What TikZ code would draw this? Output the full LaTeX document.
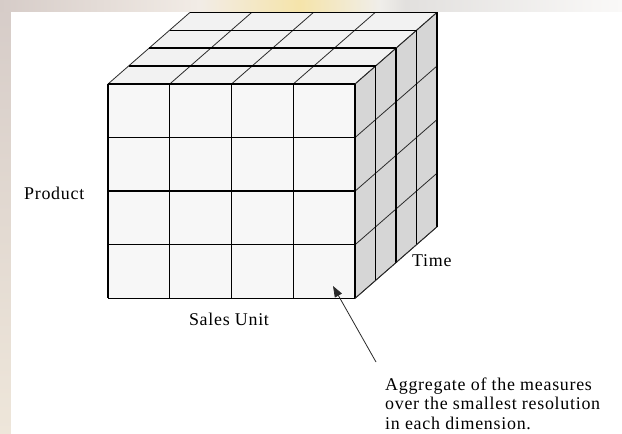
\documentclass[tikz,border=0pt]{standalone}
\usepackage{fontspec}
\setmainfont{Liberation Serif}[LetterSpace=4]
\usetikzlibrary{arrows.meta}

\definecolor{frontface}{HTML}{F7F7F7}
\definecolor{topface}{HTML}{F2F2F2}
\definecolor{sideface}{HTML}{D6D6D6}
\definecolor{edgegray}{HTML}{2A2A2A}

\tikzset{
  slabedge/.style={line width=1.4bp, draw=black},
  celledge/.style={line width=0.8bp, draw=edgegray},
  label/.style={inner sep=0pt, font=\fontsize{18}{19.5}\selectfont},
  pointer/.style={line width=0.8bp, draw=edgegray,
    -{Triangle[length=11bp,width=8bp]}},
}

\begin{document}
\begin{tikzpicture}[x=1bp, y=-1bp]
  \useasboundingbox (0,0) rectangle (622,434);

  % faded backdrop strips along the top and left edges
  \shade[top color={rgb,255:red,214;green,204;blue,200},
         bottom color={rgb,255:red,238;green,230;blue,218}] (0,0) rectangle (11,434);
  \shade[left color={rgb,255:red,214;green,204;blue,200},
         right color={rgb,255:red,242;green,236;blue,230}] (0,0) rectangle (200,12);
  \shade[left color={rgb,255:red,242;green,236;blue,230},
         right color={rgb,255:red,245;green,228;blue,170}] (200,0) rectangle (300,12);
  \shade[left color={rgb,255:red,245;green,228;blue,170},
         right color={rgb,255:red,240;green,238;blue,234}] (300,0) rectangle (380,12);
  \shade[left color={rgb,255:red,240;green,238;blue,234},
         right color={rgb,255:red,226;green,224;blue,222}] (380,0) rectangle (405,12);
  \shade[left color={rgb,255:red,226;green,224;blue,222},
         right color={rgb,255:red,250;green,249;blue,248}] (405,0) rectangle (622,12);
  \fill[white] (11,12) rectangle (622,434);

  % cube geometry: front face corners and depth step per slab
  \def\xl{108}\def\xr{355}\def\yt{84}\def\yb{298.4}
  \def\cw{61.75}\def\ch{53.6}
  \def\dx{20.5}\def\dy{-17.9}

  % faces
  \fill[topface] (\xl,\yt) -- (\xr,\yt) -- ++(4*\dx,4*\dy) -- (\xl+4*\dx,\yt+4*\dy) -- cycle;
  \fill[sideface] (\xr,\yt) -- ++(4*\dx,4*\dy) -- (\xr+4*\dx,\yb+4*\dy) -- (\xr,\yb) -- cycle;
  \fill[frontface] (\xl,\yt) rectangle (\xr,\yb);

  % receding cell edges on top and side
  \foreach \i in {0,...,4}
    \draw[celledge] (\xl+\i*\cw,\yt) -- ++(4*\dx,4*\dy);
  \foreach \j in {0,...,4}
    \draw[celledge] (\xr,\yt+\j*\ch) -- ++(4*\dx,4*\dy);

  % slab edges: top rim and right rim of each slab
  \foreach \k in {1,...,4}
    \draw[slabedge] (\xl+\k*\dx,\yt+\k*\dy) -- (\xr+\k*\dx,\yt+\k*\dy);
  \foreach \k in {0,...,4}
    \draw[slabedge] (\xr+\k*\dx,\yt+\k*\dy) -- (\xr+\k*\dx,\yb+\k*\dy);

  % front grid
  \foreach \i in {0,...,4}
    \draw[slabedge] (\xl+\i*\cw,\yt) -- (\xl+\i*\cw,\yb);
  \foreach \j in {0,...,4}
    \draw[slabedge] (\xl,\yt+\j*\ch) -- (\xr,\yt+\j*\ch);
  \draw[celledge] (\xr,\yb) -- ++(4*\dx,4*\dy);

  % axis labels
  \node[label, anchor=base west] (product) at (24,200) {Product};
  \node[label, anchor=base] (salesunit) at (229,325) {Sales Unit};
  \node[label, anchor=base west] (time) at (412,267) {Time};

  % annotation and its pointer
  \node[label, anchor=north west, align=left] (note) at (385,377.5)
    {Aggregate of the measures\\over the smallest resolution\\in each dimension.};
  \coordinate (tail) at (376,362);
  \coordinate (cell) at (333,286);
  \draw[pointer] (tail) -- (cell);
\end{tikzpicture}
\end{document}
